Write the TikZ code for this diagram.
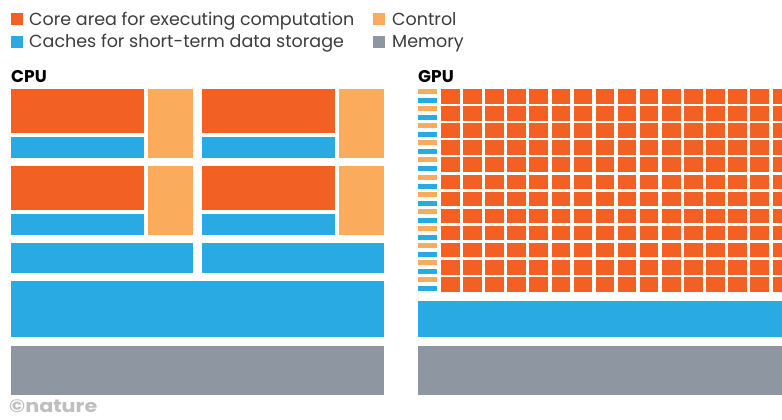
\documentclass[tikz,border=0pt]{standalone}
\usepackage{fontspec}
\setmainfont{Poppins}
\usetikzlibrary{positioning}

\definecolor{coreorange}{RGB}{242,96,36}
\definecolor{ctrlorange}{RGB}{251,171,92}
\definecolor{cacheblue}{RGB}{42,170,226}
\definecolor{memgray}{RGB}{142,150,161}
\definecolor{textgray}{RGB}{60,60,60}

\begin{document}
\begin{tikzpicture}[x=1pt,y=-1pt,
  core/.style={fill=coreorange},
  ctrl/.style={fill=ctrlorange},
  cache/.style={fill=cacheblue},
  mem/.style={fill=memgray},
  key text/.style={anchor=base west,inner sep=0pt,font=\fontsize{17.5}{20}\selectfont,text=textgray},
  title text/.style={anchor=base west,inner sep=0pt,font=\fontsize{17}{20}\selectfont\bfseries,text=black}]

  \useasboundingbox (0,0) rectangle (782,420);

  % legend
  \fill[core] (11,13) rectangle (23,25);
  \fill[cache] (11,36) rectangle (23,48);
  \fill[ctrl] (373,13) rectangle (385,25);
  \fill[mem] (373,36) rectangle (385,48);
  \node[key text] (corekey) at (29,26) {Core area for executing computation};
  \node[key text] (cachekey) at (29,48) {Caches for short-term data storage};
  \node[key text] (ctrlkey) at (392,26) {Control};
  \node[key text] (memkey) at (392,48) {Memory};

  % titles
  \node[title text] (cpu) at (11,83) {CPU};
  \node[title text] (gpu) at (418,83) {GPU};

  % CPU: four cores with caches and control
  \foreach \cx in {11,202}
    \foreach \cy in {89,166} {
      \fill[core] (\cx,\cy) rectangle ++(133,44);
      \fill[cache] (\cx,\cy+48) rectangle ++(133,21);
      \fill[ctrl] (\cx+137,\cy) rectangle ++(45,69);
    }
  \fill[cache] (11,243) rectangle (193,273);
  \fill[cache] (202,243) rectangle (384,273);
  \fill[cache] (11,281) rectangle (384,337);
  \fill[mem] (11,346) rectangle (384,395);

  % GPU: many small cores
  \begin{scope}
    \clip (0,0) rectangle (782,420);
    \foreach \i in {0,...,11} {
      \pgfmathsetmacro{\gy}{89+17.1*\i}
      \fill[ctrl] (418,\gy) rectangle ++(19,5);
      \fill[cache] (418,\gy+9) rectangle ++(19,5);
      \foreach \j in {0,...,15}
        \fill[core] (441+22.1*\j,\gy) rectangle ++(18.5,14.5);
    }
    \fill[cache] (418,301) rectangle (790,337);
    \fill[mem] (418,346) rectangle (790,395);
  \end{scope}

  % credit
  \node[anchor=base west,inner sep=0pt,text=gray!50,
    font=\fontsize{18}{20}\selectfont\bfseries] (credit) at (9,412) {\scalebox{1.15}[1]{©nature}};
\end{tikzpicture}
\end{document}
